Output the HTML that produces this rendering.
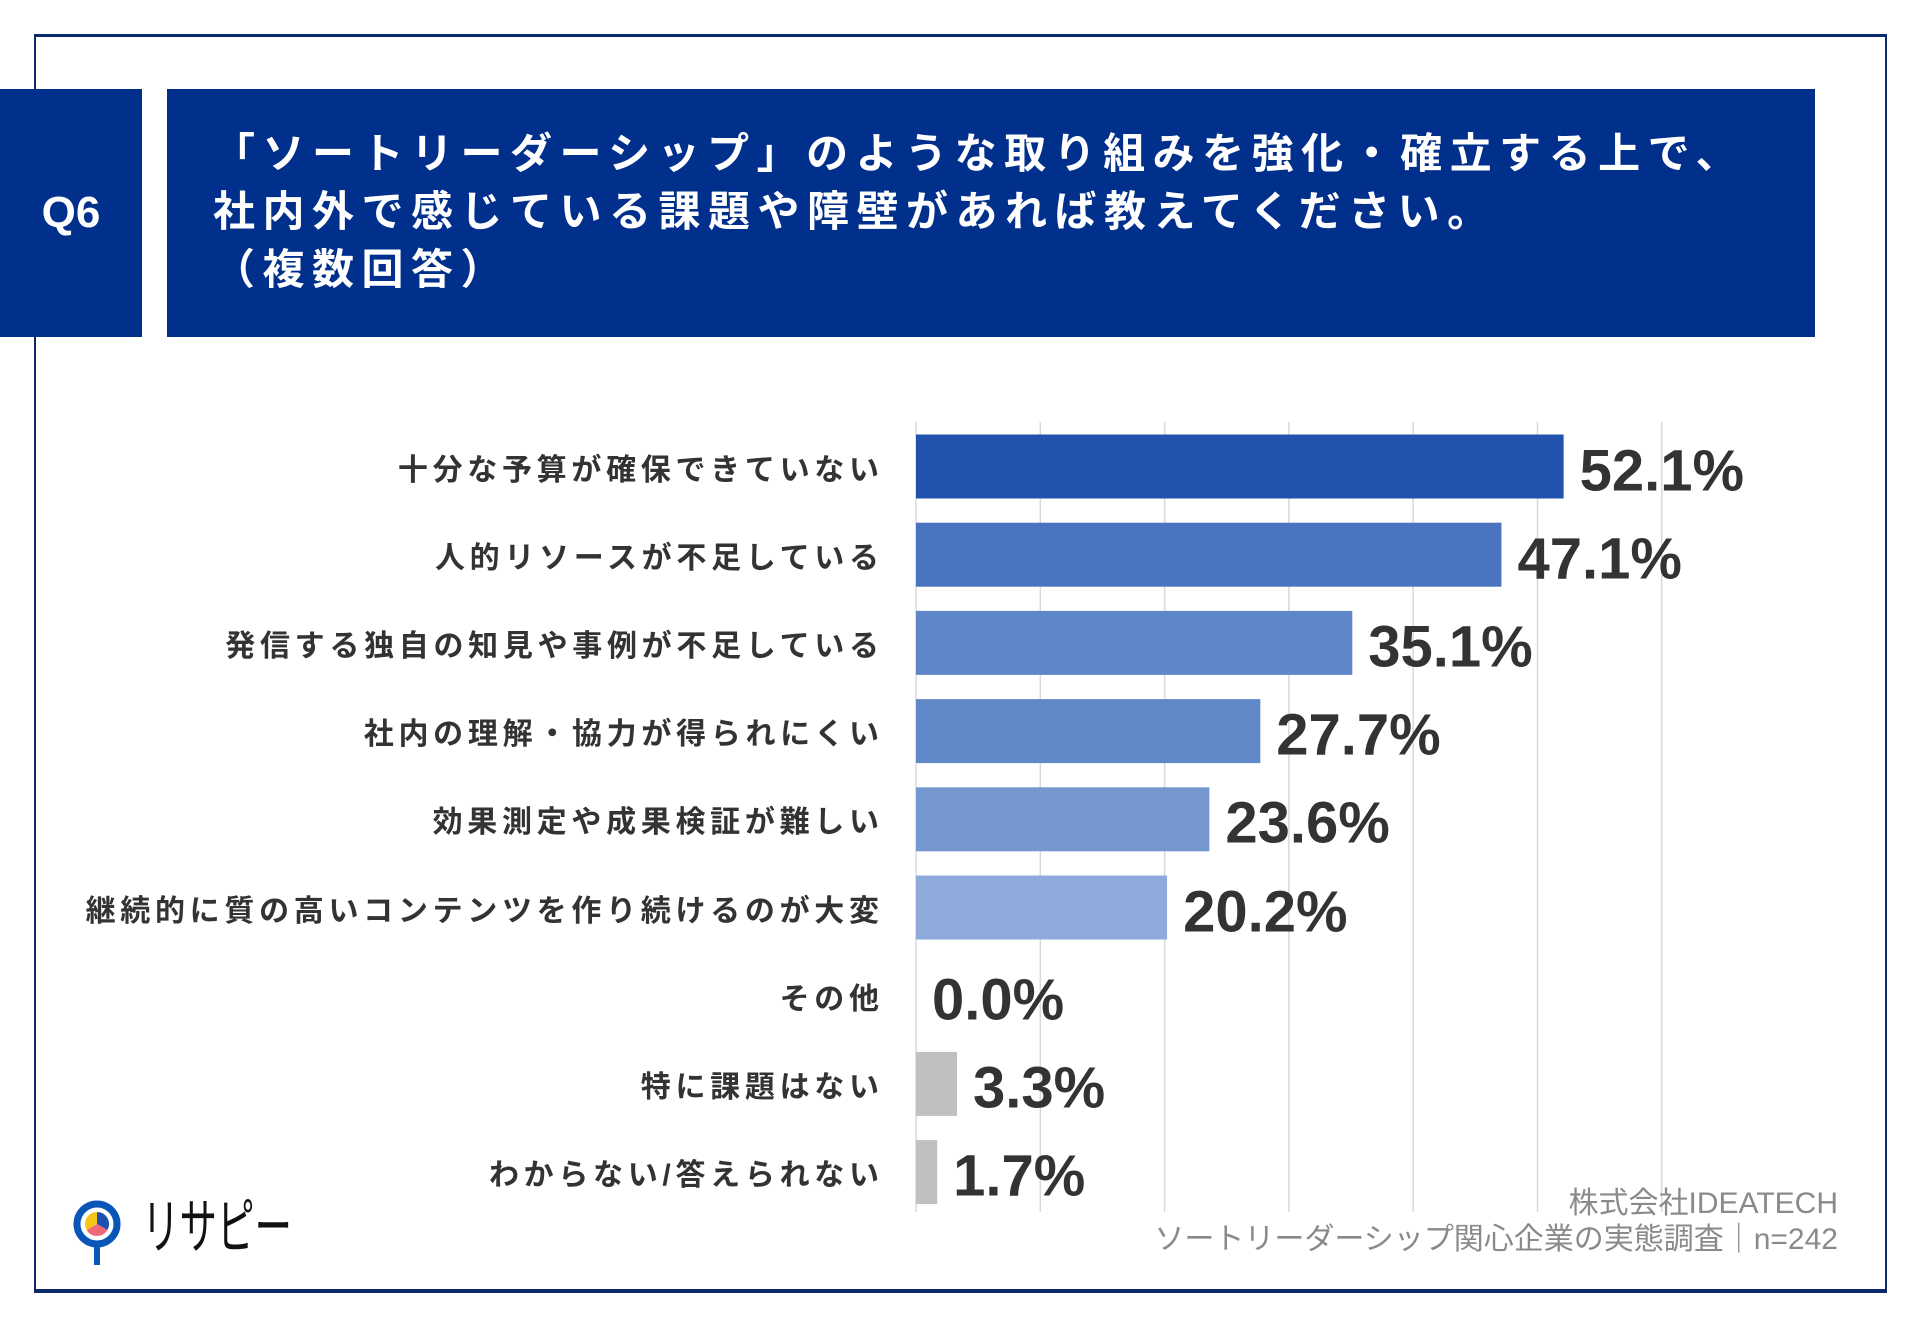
<!DOCTYPE html>
<html><head><meta charset="utf-8">
<style>
html,body{margin:0;padding:0;background:#fff;}
body{width:1920px;height:1329px;position:relative;overflow:hidden;font-family:"Liberation Sans","Noto Sans CJK JP",sans-serif;}
.frame{position:absolute;left:34px;top:34px;width:1853px;height:1259px;border:2px solid #0b2a6b;border-top-width:3px;border-bottom-width:4px;box-sizing:border-box;}
.q6{position:absolute;left:0;top:89px;width:142px;height:248px;background:#012f8c;color:#fff;font-weight:bold;font-size:44px;display:flex;align-items:center;justify-content:center;}
.title{position:absolute;left:167px;top:89px;width:1648px;height:248px;background:#012f8c;color:#fff;font-weight:bold;font-size:42px;line-height:58px;letter-spacing:7.5px;box-sizing:border-box;padding:36px 0 0 46px;}
.lbl{position:absolute;right:1041px;font-weight:bold;font-size:30px;color:#333;letter-spacing:4.7px;margin-right:-4.7px;white-space:nowrap;transform:translateY(-50%);}
.val{position:absolute;font-weight:bold;font-size:58px;color:#333;white-space:nowrap;transform:translateY(-44%);}
.foot{position:absolute;right:82px;color:#8a8a8a;font-size:30px;text-align:right;line-height:36px;top:1186px;}
</style></head><body>
<div class="frame"></div>
<div class="q6">Q6</div>
<div class="title">「ソートリーダーシップ」のような取り組みを強化・確立する上で、<br>社内外で感じている課題や障壁があれば教えてください。<br>（複数回答）</div>
<svg id="chart" width="1920" height="1329" style="position:absolute;left:0;top:0"></svg>
<div id="labels"></div>
<div class="foot">株式会社IDEATECH<br>ソートリーダーシップ関心企業の実態調査｜n=242</div>
<svg width="320" height="110" style="position:absolute;left:0;top:1180px">
  <line x1="97" y1="60" x2="97" y2="85" stroke="#0a56b8" stroke-width="6"/>
  <circle cx="97" cy="44" r="20" fill="#fff" stroke="#0a56b8" stroke-width="7"/>
  <path d="M97 44 L97 32 A12 12 0 0 1 107.4 50 Z" fill="#1f4fb0"/>
  <path d="M97 44 L107.4 50 A12 12 0 0 1 86.6 50 Z" fill="#f0677a"/>
  <path d="M97 44 L86.6 50 A12 12 0 0 1 97 32 Z" fill="#f5c518"/>
  <text x="142" y="68" font-size="60" font-family="Liberation Sans, Noto Sans CJK JP, sans-serif" fill="#111" textLength="150" lengthAdjust="spacingAndGlyphs">リサピー</text>
</svg>
<script>
const categories=["十分な予算が確保できていない","人的リソースが不足している","発信する独自の知見や事例が不足している","社内の理解・協力が得られにくい","効果測定や成果検証が難しい","継続的に質の高いコンテンツを作り続けるのが大変","その他","特に課題はない","わからない/答えられない"];
const values=[52.1,47.1,35.1,27.7,23.6,20.2,0.0,3.3,1.7];
const valueLabels=["52.1%","47.1%","35.1%","27.7%","23.6%","20.2%","0.0%","3.3%","1.7%"];
const gridTicks=[0,10,20,30,40,50,60];
const colors=["#2152ad","#4a74bf","#5f86c8","#6088c8","#7597cf","#8eaadb","#c0c0c0","#c0c0c0","#c0c0c0"];
const X0=916, PX=12.43, ROW0=466.5, PITCH=88.2, BH=64;
const xs=v=>X0+v*PX;
const yc=i=>ROW0+i*PITCH;
const svg=document.getElementById('chart');
const NS="http://www.w3.org/2000/svg";
gridTicks.forEach(t=>{
  const l=document.createElementNS(NS,'line');
  
  
  l.setAttribute('x1',xs(t));l.setAttribute('x2',xs(t));
  l.setAttribute('y1',422);l.setAttribute('y2',1212);
  l.setAttribute('stroke','#d9d9d9');l.setAttribute('stroke-width','1.5');
  svg.appendChild(l);
});
const lab=document.getElementById('labels');
values.forEach((v,i)=>{
  const r=document.createElementNS(NS,'rect');
  
  
  r.setAttribute('x',X0);r.setAttribute('y',yc(i)-BH/2);
  r.setAttribute('width',Math.max(0,xs(v)-X0));r.setAttribute('height',BH);
  r.setAttribute('fill',colors[i]);
  svg.appendChild(r);
  const d=document.createElement('div');
  d.className='lbl';
  
  
  d.style.top=yc(i)+'px';
  d.textContent=categories[i];
  lab.appendChild(d);
  const t=document.createElement('div');
  t.className='val';
  
  
  t.style.top=yc(i)+'px';
  t.style.left=(xs(v)+16)+'px';
  t.textContent=valueLabels[i];
  lab.appendChild(t);
});
</script>
</body></html>
